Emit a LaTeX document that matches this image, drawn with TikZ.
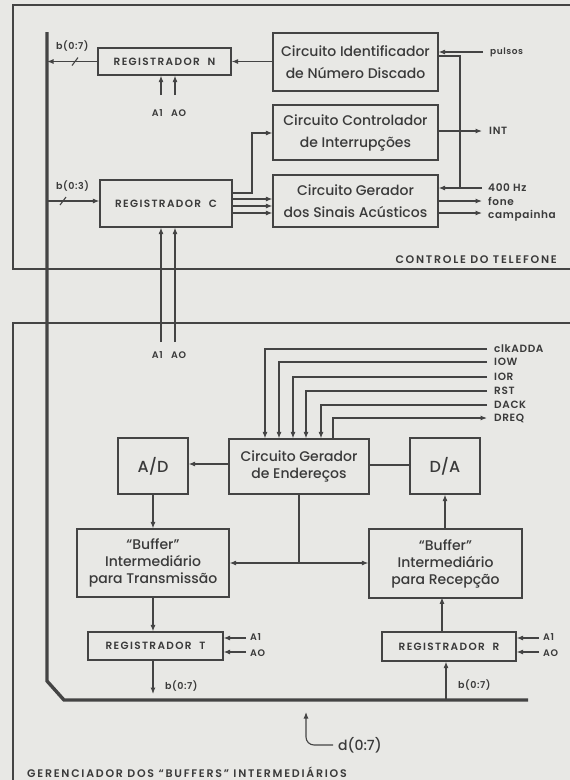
\documentclass[tikz,border=0pt]{standalone}
\usepackage{fontspec}
\setmainfont{Poppins}
\IfFontExistsTF{Poppins Medium}{\newfontfamily\fmed{Poppins Medium}}{\newfontfamily\fmed{Poppins}}
\IfFontExistsTF{Poppins SemiBold}{\newfontfamily\fsemi{Poppins SemiBold}[LetterSpace=6]}{\newfontfamily\fsemiX{Poppins}[LetterSpace=6]\def\fsemi{\fsemiX\bfseries}}
\IfFontExistsTF{Poppins SemiBold}{\newfontfamily\fwide{Poppins SemiBold}[LetterSpace=16]}{\newfontfamily\fwideX{Poppins}[LetterSpace=16]\def\fwide{\fwideX\bfseries}}
\IfFontExistsTF{Poppins SemiBold}{\newfontfamily\freg{Poppins SemiBold}[LetterSpace=13]}{\newfontfamily\fregX{Poppins}[LetterSpace=13]\def\freg{\fregX\bfseries}}
\usetikzlibrary{arrows.meta}
\definecolor{bg}{RGB}{232,232,229}
\definecolor{ink}{RGB}{68,68,68}
\definecolor{txt}{RGB}{58,58,58}
\tikzset{
  box/.style={draw=ink,line width=1.2pt,inner sep=0pt,align=center,text=txt},
  wire/.style={draw=ink,line width=1.1pt},
  arr/.style={wire,-{Latex[length=6.5pt,width=5pt]}},
  bus/.style={draw=ink,line width=3.4pt},
  frame/.style={draw=ink,line width=1.3pt},
  big/.style={font=\fmed\fontsize{14}{22}\selectfont},
  mid/.style={font=\fmed\fontsize{14}{17}\selectfont},
  reg/.style={font=\freg\fontsize{10.5}{12}\selectfont},
  lbl/.style={text=txt,inner sep=0pt,font=\fsemi\fontsize{9.5}{11}\selectfont},
  sig/.style={text=txt,inner sep=0pt,anchor=west,font=\fsemi\fontsize{10.5}{12}\selectfont},
  captxt/.style={text=txt,inner sep=0pt,font=\fwide\fontsize{11}{13}\selectfont},
}
\begin{document}
\begin{tikzpicture}[x=1pt,y=-1pt]
\fill[bg] (0,0) rectangle (570,780);
\useasboundingbox (0,0) rectangle (570,780);
% frames
\draw[frame] (570,5) -- (13,5) -- (13,269) -- (570,269);
\draw[frame] (570,323) -- (13,323) -- (13,780);
\node[captxt,anchor=east] (lctl) at (557,260) {CONTROLE DO TELEFONE};
\node[captxt,anchor=west] (lger) at (27,772) {GERENCIADOR DOS “BUFFERS” INTERMEDIÁRIOS};
% bus
\coordinate (bustop) at (47,32);
\coordinate (buscor1) at (47,681);
\coordinate (buscor2) at (64,700);
\coordinate (busend) at (528,700);
\draw[bus] (bustop) -- (buscor1) -- (buscor2) -- (busend);
% top boxes
\node[box,reg,minimum width=133pt,minimum height=27pt] (regn) at (164.5,61.5) {REGISTRADOR\ \ N};
\node[box,big,minimum width=165pt,minimum height=58pt] (cid) at (355.5,62) {Circuito Identificador\\de Número Discado};
\node[box,big,minimum width=165pt,minimum height=55pt] (cci) at (355.5,132.5) {Circuito Controlador\\de Interrupções};
\node[box,big,minimum width=165pt,minimum height=52pt] (cgs) at (355.5,201) {Circuito Gerador\\dos Sinais Acústicos};
\node[box,reg,minimum width=132pt,minimum height=47pt] (regc) at (166,203.5) {REGISTRADOR\ \ C};
% reg N connections
\coordinate (busn) at (47,61.5);
\draw[arr] (regn.west) -- (busn);
\draw[wire] (72,65.5) -- (78,57.5);
\node[lbl,anchor=south west] (lbn) at (56,52) {b(0:7)};
\draw[arr] (cid.west |- regn.east) -- (regn.east);
\coordinate (a1n) at (161,95);
\coordinate (a0n) at (175,95);
\draw[arr] (a1n) -- (a1n |- regn.south);
\draw[arr] (a0n) -- (a0n |- regn.south);
\node[lbl,anchor=north] (la1a0n) at (169,109) {A1\ \ \ AO};
% pulses
\coordinate (pul) at (483,52);
\draw[arr] (pul) -- (pul -| cid.east);
\node[sig,font=\fsemi\fontsize{9}{10}\selectfont] (lpul) at (490,52) {pulsos};
\coordinate (j400) at (460,188);
\draw[arr] ([yshift=6pt]cid.east) -| (j400) -- (j400 -| cgs.east);
\coordinate (c400) at (482,188);
\draw[wire] (c400) -- (j400);
\node[sig] (l400) at (488,188) {400 Hz};
% INT
\coordinate (cint) at (482,131);
\draw[arr] (cint -| cci.east) -- (cint);
\node[sig] (lint) at (489,131) {INT};
% fone, campainha
\coordinate (cfone) at (482,201);
\coordinate (ccamp) at (482,213);
\draw[arr] (cfone -| cgs.east) -- (cfone);
\draw[arr] (ccamp -| cgs.east) -- (ccamp);
\node[sig] (lfone) at (488,201) {fone};
\node[sig] (lcamp) at (488,216) {campainha};
% reg C connections
\coordinate (busc) at (47,201);
\draw[arr] (busc) -- (busc -| regc.west);
\draw[wire] (60,205) -- (66,197);
\node[lbl,anchor=south west] (lbc) at (56,192) {b(0:3)};
\coordinate (kc) at (252,193);
\draw[arr] (kc -| regc.east) -- (kc) |- (cci.west |- 0,133);
\foreach \yy in {199,206,213}{
  \draw[arr] (regc.east |- 0,\yy) -- (cgs.west |- 0,\yy);
}
\coordinate (a1c) at (161,342);
\coordinate (a0c) at (175,342);
\draw[arr] (a1c) -- (a1c |- regc.south);
\draw[arr] (a0c) -- (a0c |- regc.south);
\node[lbl,anchor=north] (la1a0c) at (169,351) {A1\ \ \ AO};
% bottom boxes
\node[box,mid,minimum width=140pt,minimum height=55pt] (ge) at (299,466.5) {Circuito Gerador\\de Endereços};
\node[box,font=\fmed\fontsize{16}{18}\selectfont,minimum width=70pt,minimum height=56pt] (ad) at (153,466) {A/D};
\node[box,font=\fmed\fontsize{16}{18}\selectfont,minimum width=70pt,minimum height=56pt] (da) at (445,466) {D/A};
\node[box,mid,minimum width=152pt,minimum height=68pt] (bt) at (153,563) {“Buffer”\\Intermediário\\para Transmissão};
\node[box,mid,minimum width=153pt,minimum height=69pt] (br) at (445.5,563.5) {“Buffer”\\Intermediário\\para Recepção};
\node[box,reg,minimum width=135pt,minimum height=28pt] (regt) at (155.5,646) {REGISTRADOR\ \ T};
\node[box,reg,minimum width=134pt,minimum height=29pt] (regr) at (449,646.5) {REGISTRADOR\ \ R};
% control signals
\foreach \yy/\xx/\nm in {349/265/clkADDA,362/279/IOW,377/293/IOR,391/306/RST,405/321/DACK}{
  \draw[arr] (487,\yy) -| (\xx,0 |- ge.north);
  \node[sig] at (494,\yy) {\nm};
}
\draw[arr] (333,0 |- ge.north) |- (487,418);
\node[sig] (ldreq) at (494,418) {DREQ};
% ge connections
\draw[arr] (ge.west |- 0,464) -- (ad.east |- 0,464);
\draw[wire] (ge.east |- 0,465) -- (da.west |- 0,465);
\draw[arr] (ad.south) -- (ad.south |- bt.north);
\draw[arr] (br.north -| da.south) -- (da.south);
\coordinate (jge) at (299,563);
\draw[wire] (ge.south) -- (jge);
\draw[arr] (jge) -- (bt.east |- jge);
\draw[arr] (jge) -- (br.west |- jge);
% reg T
\draw[arr] (bt.south) -- (bt.south |- regt.north);
\coordinate (bto) at (153,694);
\draw[arr] (bt.south |- regt.south) -- (bto);
\node[lbl,anchor=west] (lbt) at (165,686) {b(0:7)};
\draw[arr] (246,638) -- (regt.east |- 0,638);
\draw[arr] (246,652) -- (regt.east |- 0,652);
\node[lbl,anchor=west] (lta1) at (250,637) {A1};
\node[lbl,anchor=west] (lta0) at (250,653) {AO};
% reg R
\draw[arr] (regr.north -| br.north) ++(-3.5,0) -- ++(0,-34);
\coordinate (brin) at (446,700);
\draw[arr] (brin) -- (brin |- regr.south);
\node[lbl,anchor=west] (lbr) at (458,685) {b(0:7)};
\draw[arr] (539,638) -- (regr.east |- 0,638);
\draw[arr] (539,652) -- (regr.east |- 0,652);
\node[lbl,anchor=west] (lra1) at (543,637) {A1};
\node[lbl,anchor=west] (lra0) at (543,653) {AO};
% d(0:7)
\coordinate (dend) at (333,745);
\draw[arr,rounded corners=8pt] (dend) -| (306,712);
\node[anchor=west,text=txt,inner sep=0pt,font=\fmed\fontsize{14}{16}\selectfont] (ld) at (338,745) {d(0:7)};
\end{tikzpicture}
\end{document}
